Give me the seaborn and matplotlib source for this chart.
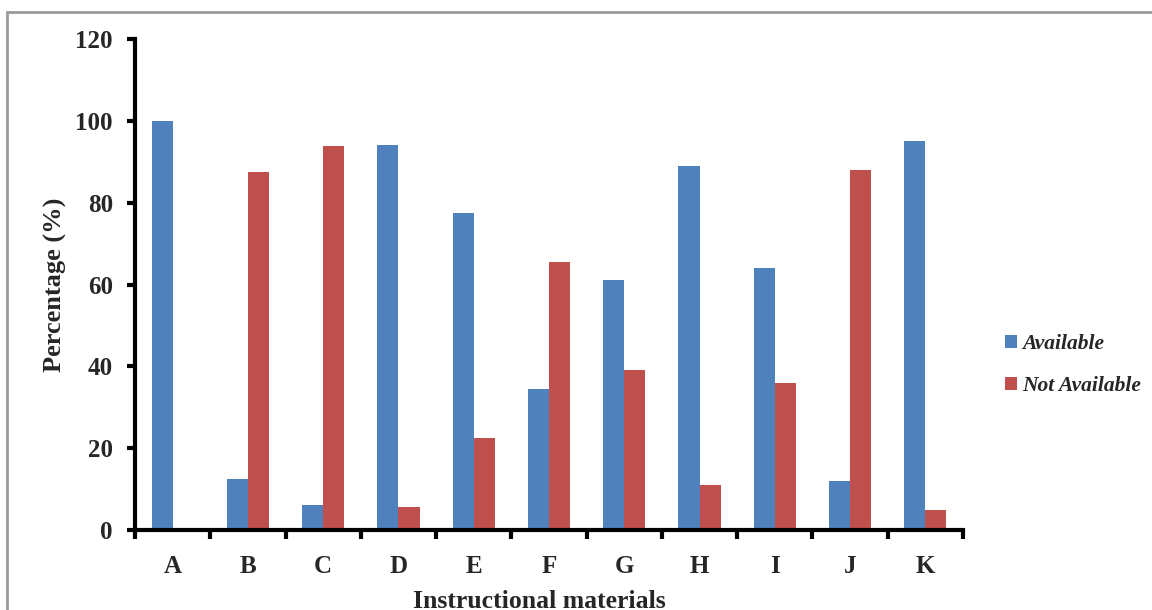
import numpy as np
import pandas as pd
import matplotlib
matplotlib.use("Agg")
import matplotlib.pyplot as plt
from matplotlib.patches import Rectangle
from matplotlib.ticker import FixedLocator, NullFormatter
import seaborn as sns

# data
materials = ['A', 'B', 'C', 'D', 'E', 'F', 'G', 'H', 'I', 'J', 'K']
available = [100, 12.5, 6.1, 94, 77.5, 34.4, 61, 88.9, 64.1, 11.9, 95]
not_available = [0, 87.5, 93.9, 5.6, 22.5, 65.6, 39, 11.1, 35.9, 88.1, 5]
series_names = ['Available', 'Not Available']
bar_colors = ['#4F81BD', '#C0504D']

sns.set_style("white")
plt.rcParams['font.family'] = ['Liberation Serif', 'DejaVu Serif']
plt.rcParams['font.weight'] = 'bold'

df = pd.DataFrame({
    'material': materials * 2,
    'value': available + not_available,
    'status': [series_names[0]] * len(materials) + [series_names[1]] * len(materials),
})

fig = plt.figure(figsize=(11.52, 6.10), dpi=100)
ax = fig.add_axes([135 / 1152, 80 / 610, 828 / 1152, 491 / 610])

sns.barplot(data=df, x='material', y='value', hue='status', palette=bar_colors,
            width=0.56, saturation=1, linewidth=0, ax=ax, legend=True)

ax.set_xlim(-0.5, len(materials) - 0.5)
ax.set_ylim(0, 120)
ax.set_yticks(np.arange(0, 121, 20))

# ticks between the groups, labels under the groups
ax.xaxis.set_minor_locator(FixedLocator(np.arange(-0.5, len(materials), 1.0)))
ax.xaxis.set_minor_formatter(NullFormatter())
ax.tick_params(axis='x', which='major', length=0, pad=18, labelsize=18)
ax.tick_params(axis='x', which='minor', bottom=True, direction='out', length=6.5, width=3, color='black')
ax.tick_params(axis='y', direction='out', length=6, width=3, color='black', pad=10, labelsize=18, left=True)
for lab in ax.get_xticklabels() + ax.get_yticklabels():
    lab.set_fontweight('bold')

for side in ['top', 'right']:
    ax.spines[side].set_visible(False)
for side in ['left', 'bottom']:
    ax.spines[side].set_linewidth(3)
    ax.spines[side].set_color('black')

ax.set_xlabel('Instructional materials', fontsize=18.5, fontweight='bold', labelpad=9,
              x=(539 - 135) / 828)
ax.set_ylabel('Percentage (%)', fontsize=19, fontweight='bold', labelpad=6)

ax.legend_.remove()
handles, labels = ax.get_legend_handles_labels()
fig.legend(handles, labels, loc='center left', bbox_to_anchor=(1005 / 1152, 245 / 610),
           frameon=False, borderpad=0, borderaxespad=0, handlelength=0.55, handleheight=0.55,
           handletextpad=0.25, labelspacing=1.0,
           prop={'family': 'Liberation Serif', 'style': 'italic', 'weight': 'bold', 'size': 15.5})

# grey frame around the chart area, running off the right and bottom edges
fig.add_artist(Rectangle((7 / 1152, -0.1), 1.2, (598 / 610) + 0.1, transform=fig.transFigure,
                         fill=False, edgecolor='#9a9a9a', linewidth=2))

fig.savefig("out.png", dpi=100)
